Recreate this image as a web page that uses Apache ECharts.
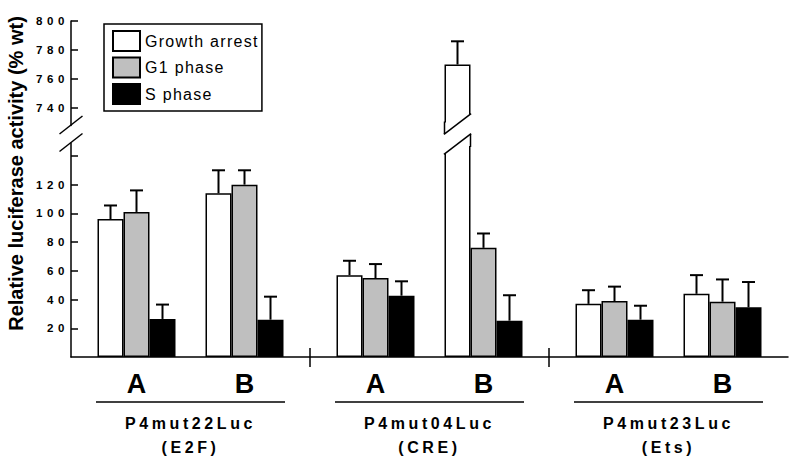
<!DOCTYPE html>
<html><head><meta charset="utf-8">
<script src="https://cdn.jsdelivr.net/npm/echarts@6/dist/echarts.min.js"></script>
<style>
html,body{margin:0;padding:0;background:#fff}
#c{width:800px;height:467px}
text[style*="spA"]{letter-spacing:4.6px}
text[style*="spB"]{letter-spacing:3.6px}
text[style*="spC"]{letter-spacing:1.3px}
</style></head><body><div id="c"></div>
<script>
// ---- data ----
const clones = ['A', 'B'];
const constructs = ['P4mut22Luc', 'P4mut04Luc', 'P4mut23Luc'];
const sites = ['(E2F)', '(CRE)', '(Ets)'];
const seriesNames = ['Growth arrest', 'G1 phase', 'S phase'];
const yTitle = 'Relative luciferase activity (% wt)';
// order: construct1 A, construct1 B, construct2 A, construct2 B, construct3 A, construct3 B
const growthArrest    = [96, 114, 57, 770, 37, 44];
const growthArrestErr = [9.5, 16, 10, 16, 9.5, 13];
const g1Phase         = [101, 120, 55, 76, 39, 38.5];
const g1PhaseErr      = [15, 10, 9.7, 10, 10, 15.5];
const sPhase          = [26.5, 26, 42.7, 25.3, 26, 34.6];
const sPhaseErr       = [10, 16, 10, 17.7, 9.7, 17.6];
const lowerTickValues  = [20, 40, 60, 80, 100, 120, 140];
const lowerLabelValues = [20, 40, 60, 80, 100, 120];
const upperTickValues  = [740, 760, 780, 800];
const lowerMax = 149, upperMin = 728, upperMax = 800;

const values = [growthArrest, g1Phase, sPhase];
const errors = [growthArrestErr, g1PhaseErr, sPhaseErr];

// ---- styles ----
const FONT = "'Liberation Sans', Arial, Helvetica, sans-serif";
const fills = ['#ffffff', '#bfbfbf', '#000000'];
const barW = 26, clusterGap = 30;
const slotWidths = [barW, barW, barW, clusterGap, barW, barW, barW];
const totalW = slotWidths.reduce((a, b) => a + b, 0);
const slotOffsets = [];
(function () { let acc = -totalW / 2; slotWidths.forEach(w => { slotOffsets.push(acc + w / 2); acc += w; }); })();

function barSeries(gridIdx) {
  const list = [];
  clones.forEach((cl, c) => {
    seriesNames.forEach((nm, s) => {
      list.push({
        type: 'bar', name: nm,
        xAxisIndex: gridIdx === 0 ? 0 : 4, yAxisIndex: gridIdx,
        barWidth: barW, barGap: '0%',
        data: constructs.map((_, g) => {
          const v = values[s][g * 2 + c];
          return gridIdx === 0 ? v : (v > lowerMax ? v : '-');
        }),
        itemStyle: { color: fills[s], borderColor: '#000', borderWidth: 1.5 },
        emphasis: { disabled: true }, silent: true, z: 2
      });
    });
    if (c === 0) {
      list.push({
        type: 'bar', name: '', xAxisIndex: gridIdx === 0 ? 0 : 4, yAxisIndex: gridIdx,
        barWidth: clusterGap, barGap: '0%', data: constructs.map(() => '-'), silent: true
      });
    }
  });
  return list;
}

function errorData(upper) {
  const items = [];
  seriesNames.forEach((nm, s) => {
    constructs.forEach((_, g) => {
      clones.forEach((cl, c) => {
        const v = values[s][g * 2 + c], e = errors[s][g * 2 + c];
        if (upper ? v > lowerMax : true) items.push([g, v, e, c * 4 + s]);
      });
    });
  });
  return items;
}

const LW = { stroke: '#000', lineWidth: 2 };
const BW = { stroke: '#000', lineWidth: 1.5 };

function renderError(isUpper) {
  return function (params, api) {
    const g = api.value(0), v = api.value(1), e = api.value(2), slot = api.value(3);
    const off = slotOffsets[slot];
    if (!isUpper && v > lowerMax) {
      // broken bar marks
      const pT = api.coord([g, lowerMax]);
      const xc = pT[0] + off, yT = pT[1];
      const hdx = barW / 2, hdy = 10;
      const k = hdy / hdx;
      const usC = yT - 19, lsC = yT + 1;
      const US = x => usC - (x - xc) * k;
      const LS = x => lsC - (x - xc) * k;
      const x0 = xc - hdx, x1 = xc + hdx, xl = x0 - 1.5, xr = x1 + 1.5;
      return { type: 'group', children: [
        { type: 'rect', shape: { x: xl, y: usC - 1.5, width: xr - xl, height: (yT + 3) - (usC - 1.5) }, style: { fill: '#fff' } },
        { type: 'polygon', shape: { points: [[xl, US(xl)], [xr, US(xr)], [xr, LS(xr)], [xl, LS(xl)]] }, style: { fill: '#fff' } },
        { type: 'line', shape: { x1: x0, y1: usC - 2.5, x2: x0, y2: US(x0) }, style: BW },
        { type: 'line', shape: { x1: x1, y1: LS(x1), x2: x1, y2: yT + 4 }, style: BW },
        { type: 'line', shape: { x1: x0 - 0.6, y1: US(x0 - 0.6), x2: x1 + 0.6, y2: US(x1 + 0.6) }, style: BW },
        { type: 'line', shape: { x1: x0 - 0.6, y1: LS(x0 - 0.6), x2: x1 + 0.6, y2: LS(x1 + 0.6) }, style: BW }
      ] };
    }
    const p0 = api.coord([g, v]), p1 = api.coord([g, v + e]);
    const x = p0[0] + off;
    return { type: 'group', children: [
      { type: 'line', shape: { x1: x, y1: p0[1], x2: x, y2: p1[1] }, style: LW },
      { type: 'line', shape: { x1: x - 6.5, y1: p1[1], x2: x + 6.5, y2: p1[1] }, style: LW }
    ] };
  };
}

function renderAxisBreak(params, api) {
  const cs = params.coordSys;
  const yT = api.coord([0, lowerMax])[1];
  const xa = cs.x, hdx = 11.5, hdy = 9;
  const usC = yT - 18, lsC = yT - 0.5;
  return { type: 'group', children: [
    { type: 'line', shape: { x1: xa - hdx, y1: usC + hdy, x2: xa + hdx, y2: usC - hdy }, style: BW },
    { type: 'line', shape: { x1: xa - hdx, y1: lsC + hdy, x2: xa + hdx, y2: lsC - hdy }, style: BW }
  ] };
}

const separatorValues = constructs.slice(1).map((_, i) => i + 1);
const yLabelStyle = { fontSize: 11.5, fontWeight: 'bold', fontFamily: FONT + ', spA', color: '#000', margin: 2 };

const option = {
  animation: false,
  backgroundColor: '#fff',
  grid: [
    { left: 71, width: 717, top: 143, height: 214, outerBoundsMode: 'none', containLabel: false },
    { left: 71, width: 717, top: 21, height: 104.4, outerBoundsMode: 'none', containLabel: false }
  ],
  legend: {
    data: seriesNames, orient: 'vertical', left: 104, top: 24,
    icon: 'rect', itemWidth: 27, itemHeight: 20, itemGap: 4.5,
    padding: [6, 20, 6, 8], borderColor: '#000', borderWidth: 1.5,
    selectedMode: false,
    textStyle: { fontSize: 16, fontFamily: FONT + ', spC', color: '#000' }
  },
  xAxis: [
    { gridIndex: 0, type: 'category', data: constructs, position: 'bottom',
      axisLine: { show: true, lineStyle: { color: '#000', width: 1.5 } },
      axisTick: { show: false },
      axisLabel: {
        interval: 0, margin: 12,
        formatter: () => clones.map(c => '{ab|' + c + '}').join('') + '\n{ul| }',
        rich: {
          ab: { fontSize: 27, fontWeight: 'bold', fontFamily: FONT, color: '#000', width: barW * 3 + clusterGap, align: 'center', lineHeight: 30 },
          ul: { width: 189, height: 1.5, lineHeight: 6, fontSize: 1, backgroundColor: '#000', align: 'center' }
        }
      } },
    { gridIndex: 0, type: 'category', data: constructs, position: 'bottom',
      axisLine: { show: false }, axisTick: { show: false },
      axisLabel: {
        interval: 0, margin: 54, lineHeight: 24,
        formatter: (val, idx) => constructs[idx] + '\n' + sites[idx],
        fontSize: 16, fontWeight: 'bold', fontFamily: FONT + ', spB', color: '#000'
      } },
    { gridIndex: 0, type: 'value', min: 0, max: constructs.length, position: 'bottom',
      axisLine: { show: false }, axisLabel: { show: false }, splitLine: { show: false },
      axisTick: { show: true, customValues: separatorValues, length: 10, lineStyle: { color: '#000', width: 1.5 } } },
    { gridIndex: 0, type: 'value', min: 0, max: constructs.length, position: 'bottom',
      axisLine: { show: false }, axisLabel: { show: false }, splitLine: { show: false },
      axisTick: { show: true, inside: true, customValues: separatorValues, length: 9, lineStyle: { color: '#000', width: 1.5 } } },
    { gridIndex: 1, type: 'category', data: constructs, show: false }
  ],
  yAxis: [
    { gridIndex: 0, type: 'value', min: 0, max: lowerMax,
      axisLine: { show: true, lineStyle: { color: '#000', width: 1.5 } },
      axisTick: { show: true, inside: true, length: 7, customValues: lowerTickValues, lineStyle: { color: '#000', width: 1.5 } },
      axisLabel: Object.assign({ customValues: lowerLabelValues }, yLabelStyle),
      splitLine: { show: false } },
    { gridIndex: 1, type: 'value', min: upperMin, max: upperMax,
      axisLine: { show: true, lineStyle: { color: '#000', width: 1.5 } },
      axisTick: { show: true, inside: true, length: 7, customValues: upperTickValues, lineStyle: { color: '#000', width: 1.5 } },
      axisLabel: Object.assign({ customValues: upperTickValues }, yLabelStyle),
      splitLine: { show: false } }
  ],
  series: [].concat(
    barSeries(0),
    barSeries(1),
    [
      { type: 'custom', name: 'err-lower', xAxisIndex: 0, yAxisIndex: 0, data: errorData(false), renderItem: renderError(false), z: 5, clip: false, silent: true },
      { type: 'custom', name: 'err-upper', xAxisIndex: 4, yAxisIndex: 1, data: errorData(true), renderItem: renderError(true), z: 5, clip: false, silent: true },
      { type: 'custom', name: 'axis-break', xAxisIndex: 0, yAxisIndex: 0, data: [[0, lowerMax]], renderItem: renderAxisBreak, z: 5, clip: false, silent: true }
    ]
  ),
  graphic: [
    { type: 'text', x: 16, y: 173.5, rotation: Math.PI / 2, silent: true,
      style: { text: yTitle, fontSize: 20, fontWeight: 'bold', fontFamily: FONT, fill: '#000',
               align: 'center', verticalAlign: 'middle', textAlign: 'center', textVerticalAlign: 'middle' } }
  ]
};

const chart = echarts.init(document.getElementById('c'), null, { renderer: 'svg' });
chart.setOption(option);
</script></body></html>
